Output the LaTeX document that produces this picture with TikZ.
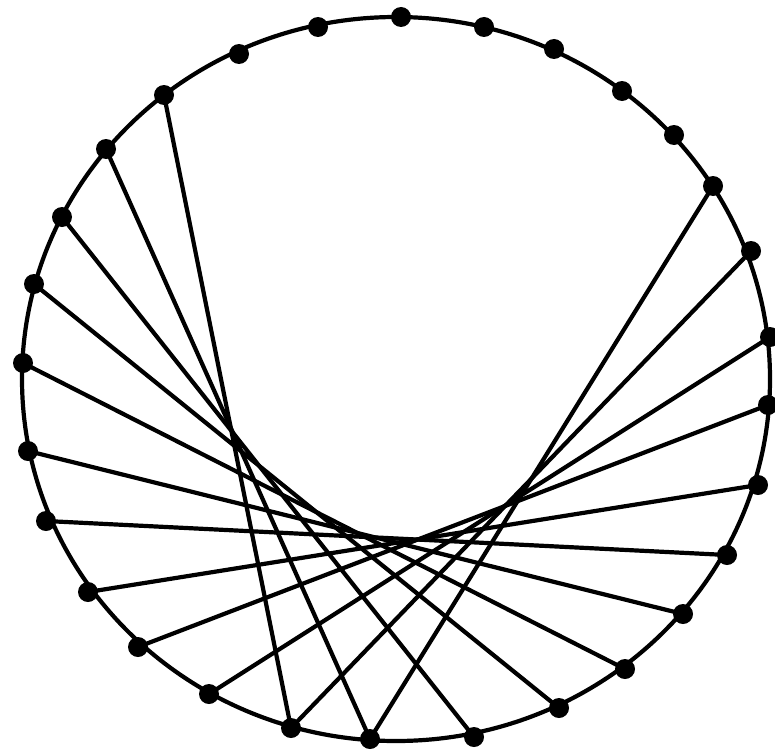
\documentclass[tikz,border=0pt]{standalone}
\begin{document}
\begin{tikzpicture}[x=1pt,y=-1pt,
  rim/.style={line width=4.2pt,black},
  chord/.style={line width=4.2pt,black,line cap=round},
  dot/.style={circle,fill=black,inner sep=0pt,minimum size=20pt}]
\useasboundingbox (0,0) rectangle (775,752);
\coordinate (p1) at (401,17);
\coordinate (p2) at (484,27);
\coordinate (p3) at (554,49);
\coordinate (p4) at (622,91);
\coordinate (p5) at (674,135);
\coordinate (p6) at (713,186);
\coordinate (p7) at (751,251);
\coordinate (p8) at (770,337);
\coordinate (p9) at (768,405);
\coordinate (p10) at (758,485);
\coordinate (p11) at (727,555);
\coordinate (p12) at (683,614);
\coordinate (p13) at (625,669);
\coordinate (p14) at (559,708);
\coordinate (p15) at (474,737);
\coordinate (p16) at (370,739);
\coordinate (p17) at (291,728);
\coordinate (p18) at (209,694);
\coordinate (p19) at (138,647);
\coordinate (p20) at (88,592);
\coordinate (p21) at (46,521);
\coordinate (p22) at (28,451);
\coordinate (p23) at (23,363);
\coordinate (p24) at (34,284);
\coordinate (p25) at (62,217);
\coordinate (p26) at (106,149);
\coordinate (p27) at (164,95);
\coordinate (p28) at (239,54);
\coordinate (p29) at (318,27);
\coordinate (c) at (396,379);
\draw[rim] (c) ellipse [x radius=374, y radius=362];
\foreach \i [evaluate=\i as \j using int(\i+10)] in {6,...,17}
  \draw[chord] (p\i) -- (p\j);
\foreach \i in {1,...,29}
  \node[dot] (d\i) at (p\i) {};
\end{tikzpicture}
\end{document}
